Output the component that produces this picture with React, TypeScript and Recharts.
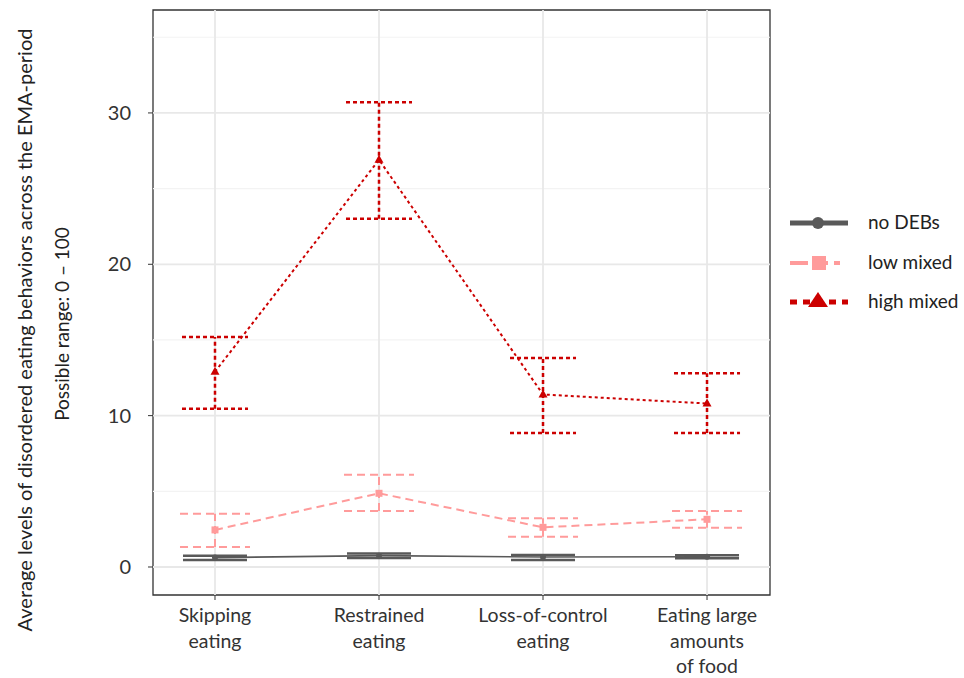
import React from 'react';
import {
  LineChart, Line, XAxis, YAxis, ErrorBar, ReferenceLine, ReferenceArea,
} from 'recharts';

const categories = [
  ['Skipping', 'eating'],
  ['Restrained', 'eating'],
  ['Loss-of-control', 'eating'],
  ['Eating large', 'amounts', 'of food'],
];
const positions = [1, 2, 3, 4];

const noDebsMean = [0.62, 0.75, 0.66, 0.68];
const noDebsLower = [0.46, 0.6, 0.46, 0.57];
const noDebsUpper = [0.75, 0.9, 0.8, 0.77];

const lowMean = [2.45, 4.87, 2.62, 3.15];
const lowLower = [1.32, 3.7, 2.0, 2.6];
const lowUpper = [3.52, 6.1, 3.22, 3.7];

const highMean = [12.9, 26.9, 11.4, 10.8];
const highLower = [10.45, 23.0, 8.85, 8.85];
const highUpper = [15.2, 30.7, 13.8, 12.8];

const yTicks = [0, 10, 20, 30];
const yMinor = [5, 15, 25, 35];

const seriesNames = ['no DEBs', 'low mixed', 'high mixed'];
const colors = ['#595959', '#ff9b9b', '#cc0000'];

const data = positions.map((x, i) => ({
  x,
  noDebs: noDebsMean[i],
  noDebsErr: [noDebsMean[i] - noDebsLower[i], noDebsUpper[i] - noDebsMean[i]],
  low: lowMean[i],
  lowErr: [lowMean[i] - lowLower[i], lowUpper[i] - lowMean[i]],
  high: highMean[i],
  highErr: [highMean[i] - highLower[i], highUpper[i] - highMean[i]],
}));

const FONT = 'Lato, "Open Sans", sans-serif';
const X_DOMAIN: [number, number] = [0.622, 4.384];
const Y_DOMAIN: [number, number] = [-1.85, 36.8];

const XTick = (props: any) => {
  const { x, y, payload } = props;
  const lines = categories[payload.value - 1] || [];
  return (
    <g>
      <line x1={x} x2={x} y1={y - 8} y2={y - 3} stroke="#333" strokeWidth={1} />
      {lines.map((l, i) => (
        <text key={i} x={x} y={y + 19 + i * 25.5} textAnchor="middle" fill="#333"
          fontSize={19.5} fontFamily={FONT}>{l}</text>
      ))}
    </g>
  );
};

const YTick = (props: any) => {
  const { x, y, payload } = props;
  return (
    <g>
      <line x1={x + 3} x2={x + 8} y1={y} y2={y} stroke="#333" strokeWidth={1} />
      <text x={x - 14} y={y + 7} textAnchor="end" fill="#333" fontSize={20} fontFamily={FONT}>
        {payload.value}
      </text>
    </g>
  );
};

const YLabel = () => (
  <g>
    <text transform="translate(32,330) rotate(-90)" textAnchor="middle" fill="#222"
      fontSize={20} fontFamily={FONT}>
      Average levels of disordered eating behaviors across the EMA-period
    </text>
    <text transform="translate(69,324) rotate(-90)" textAnchor="middle" fill="#222"
      fontSize={19} fontFamily={FONT}>
      Possible range: 0 – 100
    </text>
  </g>
);

const Square = (props: any) => {
  const { cx, cy, index } = props;
  if (cx == null || cy == null) return <g key={`s${index}`} />;
  return <rect key={`s${index}`} x={cx - 3.5} y={cy - 3.5} width={7} height={7} fill={colors[1]} />;
};
const Triangle = (props: any) => {
  const { cx, cy, index } = props;
  if (cx == null || cy == null) return <g key={`t${index}`} />;
  return <polygon key={`t${index}`} points={`${cx},${cy - 5} ${cx - 4.5},${cy + 3} ${cx + 4.5},${cy + 3}`} fill={colors[2]} />;
};

const LegendContent = () => {
  const ys = [223, 263, 302];
  return (
    <svg width={964} height={678} style={{ position: 'absolute', left: 0, top: 0, pointerEvents: 'none' }}>
      <line x1={790} x2={848} y1={ys[0]} y2={ys[0]} stroke={colors[0]} strokeWidth={5} />
      <circle cx={818} cy={ys[0]} r={6} fill={colors[0]} />
      <line x1={790} x2={848} y1={ys[1]} y2={ys[1]} stroke={colors[1]} strokeWidth={4} strokeDasharray="18 6 14 6 6 100" />
      <rect x={812} y={ys[1] - 7} width={14} height={14} fill={colors[1]} />
      <line x1={790} x2={848} y1={ys[2]} y2={ys[2]} stroke={colors[2]} strokeWidth={5} strokeDasharray="7 6" />
      <polygon points={`818,${ys[2] - 10} 808,${ys[2] + 5} 828,${ys[2] + 5}`} fill={colors[2]} />
      {seriesNames.map((n, i) => (
        <text key={n} x={868} y={ys[i] + 6} fill="#222" fontSize={19} fontFamily={FONT}>{n}</text>
      ))}
    </svg>
  );
};

export default function App() {
  return (
    <div style={{ position: 'absolute', left: 0, top: 0, width: 964, height: 678, background: '#fff' }}>
      <LineChart width={964} height={678} data={data}
        margin={{ top: 10, right: 194, bottom: 0, left: 0 }}>
        <XAxis dataKey="x" type="number" domain={X_DOMAIN} ticks={positions} height={83}
          axisLine={false} tickLine={false} tick={<XTick />} interval={0} allowDataOverflow />
        <YAxis type="number" domain={Y_DOMAIN} ticks={yTicks} width={153}
          axisLine={false} tickLine={false} tick={<YTick />} interval={0} allowDataOverflow
          label={<YLabel />} />
        {yMinor.map((v) => (
          <ReferenceLine key={`mi${v}`} y={v} stroke="#f3f3f3" strokeWidth={1.2} />
        ))}
        {yTicks.map((v) => (
          <ReferenceLine key={`ma${v}`} y={v} stroke="#e8e8e8" strokeWidth={1.8} />
        ))}
        {positions.map((v) => (
          <ReferenceLine key={`vx${v}`} x={v} stroke="#e8e8e8" strokeWidth={1.8} />
        ))}
        <Line dataKey="noDebs" stroke={colors[0]} strokeWidth={1.6} isAnimationActive={false}
          dot={{ r: 3, fill: colors[0], stroke: 'none' }} activeDot={false}>
          <ErrorBar dataKey="noDebsErr" direction="y" width={32} stroke={colors[0]} strokeWidth={2.5} />
        </Line>
        <Line dataKey="low" stroke={colors[1]} strokeWidth={2} strokeDasharray="8 5" isAnimationActive={false}
          dot={<Square />} activeDot={false}>
          <ErrorBar dataKey="lowErr" direction="y" width={35} stroke={colors[1]} strokeWidth={2} strokeDasharray="8 5" />
        </Line>
        <Line dataKey="high" stroke={colors[2]} strokeWidth={2} strokeDasharray="3 3" isAnimationActive={false}
          dot={<Triangle />} activeDot={false}>
          <ErrorBar dataKey="highErr" direction="y" width={33} stroke={colors[2]} strokeWidth={2.5} strokeDasharray="4 3" />
        </Line>
        <ReferenceArea x1={X_DOMAIN[0]} x2={X_DOMAIN[1]} y1={Y_DOMAIN[0]} y2={Y_DOMAIN[1]}
          fill="none" fillOpacity={0} stroke="#333" strokeWidth={1.3} strokeOpacity={1} />
      </LineChart>
      <LegendContent />
    </div>
  );
}
